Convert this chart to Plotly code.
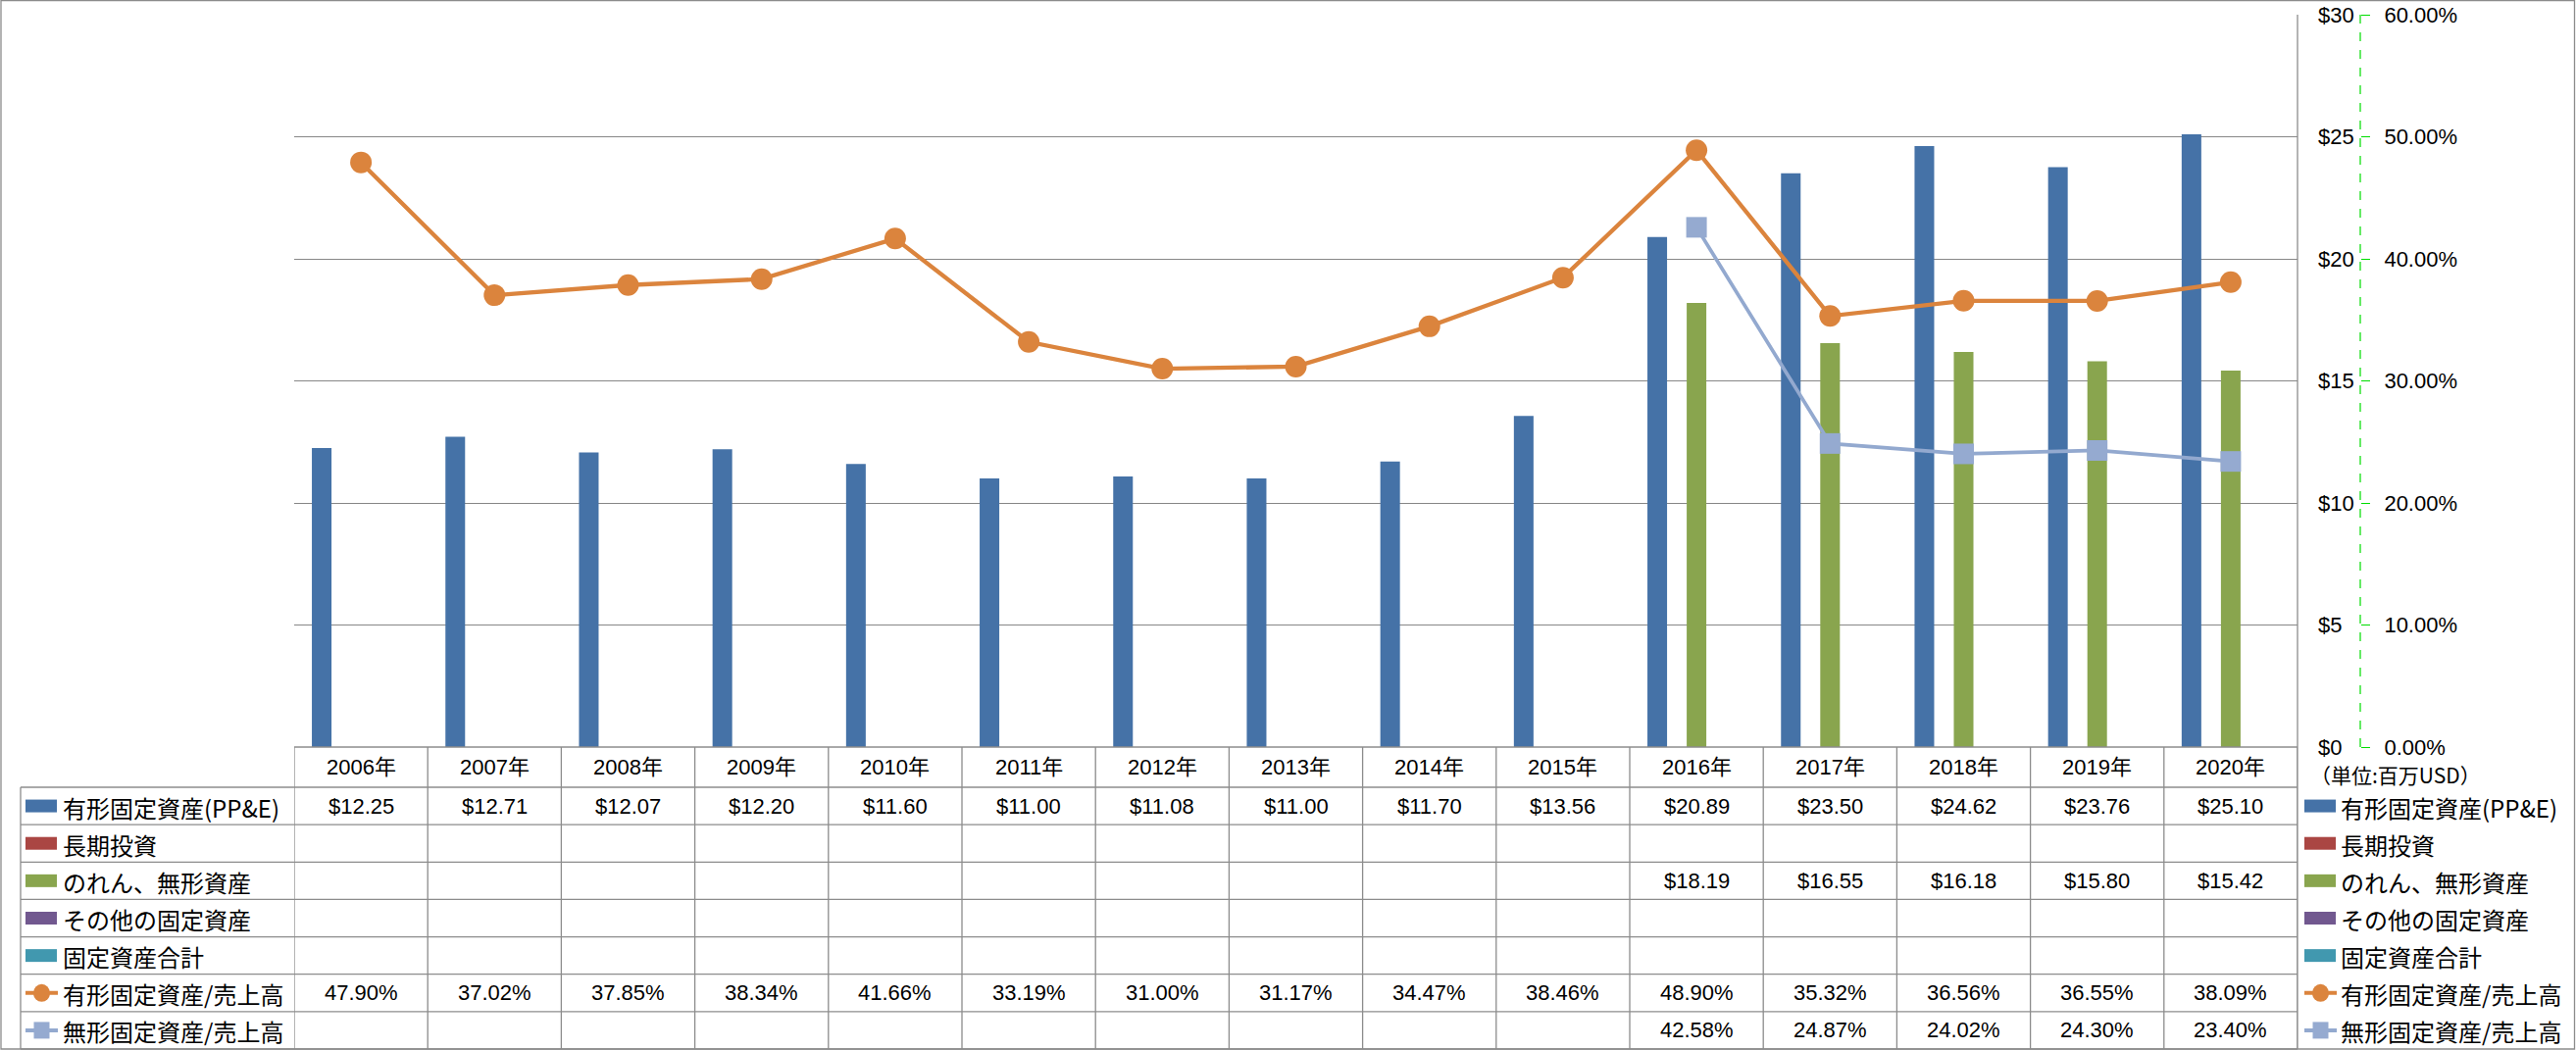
import plotly.graph_objects as go

W, H = 2627, 1071

# ---------------- data ----------------
years = ["2006", "2007", "2008", "2009", "2010", "2011", "2012", "2013",
         "2014", "2015", "2016", "2017", "2018", "2019", "2020"]
categories = [y + "年" for y in years]

ppe = [12.25, 12.71, 12.07, 12.20, 11.60, 11.00, 11.08, 11.00, 11.70, 13.56,
       20.89, 23.50, 24.62, 23.76, 25.10]
long_term_inv = [None] * 15
goodwill_intangibles = [None] * 10 + [18.19, 16.55, 16.18, 15.80, 15.42]
other_fixed = [None] * 15
total_fixed = [None] * 15
ppe_to_sales = [47.90, 37.02, 37.85, 38.34, 41.66, 33.19, 31.00, 31.17, 34.47,
                38.46, 48.90, 35.32, 36.56, 36.55, 38.09]
intangible_to_sales = [None] * 10 + [42.58, 24.87, 24.02, 24.30, 23.40]

series_names = ["有形固定資産(PP&E)", "長期投資", "のれん、無形資産", "その他の固定資産",
                "固定資産合計", "有形固定資産/売上高", "無形固定資産/売上高"]
unit_label = "（単位:百万USD）"

# ---------------- style ----------------
colors = ["#4572A7", "#AA4643", "#89A54E", "#71588F", "#4198AF", "#DB843D", "#93A9CF"]
FONT = "Liberation Sans, Arial, Noto Sans CJK JP, sans-serif"
CJK = "Noto Sans CJK JP, Liberation Sans, sans-serif"
GRID = "#878787"
LINE = "#8c8c8c"

PL, PR, PT, PB = 300, 2343, 15, 762  # plot area in px


def px(x):
    return x / W


def py(y):
    return 1 - y / H


fig = go.Figure()

bar_series = [ppe, long_term_inv, goodwill_intangibles, other_fixed, total_fixed]
for i, vals in enumerate(bar_series):
    fig.add_trace(go.Bar(x=categories, y=vals, name=series_names[i],
                         marker=dict(color=colors[i], line=dict(width=0)),
                         yaxis="y", showlegend=False, hoverinfo="skip"))

fig.add_trace(go.Scatter(x=categories, y=ppe_to_sales, name=series_names[5],
                         mode="lines+markers", yaxis="y2",
                         line=dict(color=colors[5], width=4.3),
                         marker=dict(symbol="circle", size=22, color=colors[5]),
                         showlegend=False, hoverinfo="skip"))
fig.add_trace(go.Scatter(x=categories, y=intangible_to_sales, name=series_names[6],
                         mode="lines+markers", yaxis="y2",
                         line=dict(color=colors[6], width=3.7),
                         marker=dict(symbol="square", size=21, color="#95AAD0"),
                         showlegend=False, hoverinfo="skip", connectgaps=False))

shapes = []
annotations = []

# plot-area right border + table right border
shapes.append(dict(type="line", xref="paper", yref="paper", x0=px(PR), x1=px(PR),
                   y0=py(PT), y1=py(1070), line=dict(color=LINE, width=1.3)))
# secondary axis dashed green line
shapes.append(dict(type="line", xref="paper", yref="paper", x0=px(2407), x1=px(2407),
                   y0=py(PT), y1=py(PB), line=dict(color="#00dd00", width=1.2, dash="dash")))

# ---------------- table ----------------
ROW0 = 803
RH = 38.14
# header top line (x axis)
shapes.append(dict(type="line", xref="paper", yref="paper", x0=px(PL), x1=px(PR),
                   y0=py(PB), y1=py(PB), line=dict(color=LINE, width=1.3)))
# column separators
for i in range(len(categories) + 1):
    shapes.append(dict(type="line", xref="x", yref="paper", x0=i - 0.5, x1=i - 0.5,
                       y0=py(PB), y1=py(1070), line=dict(color=LINE, width=1.3)))
# row lines
for r in range(8):
    yy = ROW0 + RH * r
    shapes.append(dict(type="line", xref="paper", yref="paper", x0=px(21), x1=px(PR),
                       y0=py(yy), y1=py(yy), line=dict(color=LINE, width=1.3)))
shapes.append(dict(type="line", xref="paper", yref="paper", x0=px(21), x1=px(21),
                   y0=py(ROW0), y1=py(1070), line=dict(color=LINE, width=1.3)))
# outer border
shapes.append(dict(type="rect", xref="paper", yref="paper", x0=px(1), x1=px(2625.5),
                   y0=py(1070), y1=py(0.5), line=dict(color=LINE, width=1.3)))

# header year labels
for i, c in enumerate(categories):
    annotations.append(dict(x=c, xref="x", y=py((PB + ROW0) / 2), yref="paper",
                            text=c, showarrow=False, xanchor="center", yanchor="middle",
                            font=dict(family=FONT, size=22, color="#000")))

row_values = [
    [None if v is None else "${:.2f}".format(v) for v in ppe],
    [None if v is None else "${:.2f}".format(v) for v in long_term_inv],
    [None if v is None else "${:.2f}".format(v) for v in goodwill_intangibles],
    [None if v is None else "${:.2f}".format(v) for v in other_fixed],
    [None if v is None else "${:.2f}".format(v) for v in total_fixed],
    [None if v is None else "{:.2f}%".format(v) for v in ppe_to_sales],
    [None if v is None else "{:.2f}%".format(v) for v in intangible_to_sales],
]

for r, vals in enumerate(row_values):
    yc = ROW0 + RH * r + RH / 2
    for i, t in enumerate(vals):
        if t is None:
            continue
        annotations.append(dict(x=categories[i], xref="x", y=py(yc), yref="paper",
                                text=t, showarrow=False, xanchor="center", yanchor="middle",
                                font=dict(family=FONT, size=22, color="#000")))
    # legend keys + labels, left (table) and right
    for kx, tx in ((26, 62), (2350, 2385)):
        col = colors[r]
        if r < 5:
            shapes.append(dict(type="rect", xref="paper", yref="paper",
                               x0=px(kx), x1=px(kx + 32), y0=py(yc + 6.5), y1=py(yc - 6.5),
                               fillcolor=col, line=dict(width=0)))
        else:
            shapes.append(dict(type="line", xref="paper", yref="paper",
                               x0=px(kx), x1=px(kx + 33), y0=py(yc), y1=py(yc),
                               line=dict(color=col, width=4)))
            cx = kx + 16.5
            if r == 5:
                shapes.append(dict(type="circle", xref="paper", yref="paper",
                                   x0=px(cx - 8.5), x1=px(cx + 8.5),
                                   y0=py(yc + 9), y1=py(yc - 9),
                                   fillcolor=col, line=dict(width=0)))
            else:
                shapes.append(dict(type="rect", xref="paper", yref="paper",
                                   x0=px(cx - 8), x1=px(cx + 8),
                                   y0=py(yc + 8.5), y1=py(yc - 8.5),
                                   fillcolor="#95AAD0", line=dict(width=0)))
        annotations.append(dict(x=px(tx), xref="paper", y=py(yc + 1), yref="paper",
                                text=series_names[r], showarrow=False,
                                xanchor="left", yanchor="middle",
                                font=dict(family=CJK, size=24, color="#000")))

annotations.append(dict(x=px(2354), xref="paper", y=py(790), yref="paper",
                        text=unit_label, showarrow=False, xanchor="left", yanchor="middle",
                        font=dict(family=CJK, size=21, color="#000")))

fig.update_layout(
    width=W, height=H,
    autosize=False,
    margin=dict(l=0, r=0, t=0, b=0, pad=0, autoexpand=False),
    paper_bgcolor="white", plot_bgcolor="white",
    barmode="group", bargap=0.265, bargroupgap=0,
    showlegend=False,
    font=dict(family=FONT, size=21, color="#000"),
    xaxis=dict(domain=[px(PL), px(PR)], type="category", range=[-0.5, 14.5],
               showticklabels=False, ticks="", showgrid=False, zeroline=False,
               showline=False, fixedrange=True, automargin=False),
    yaxis=dict(domain=[py(PB), py(PT)], range=[0, 30], dtick=5, tickprefix="$",
               side="right", anchor="free", position=px(2363), showgrid=True,
               gridcolor=GRID, gridwidth=1.3, zeroline=False, showline=False,
               automargin=False,
               ticks="", tickfont=dict(family=FONT, size=22, color="#000")),
    yaxis2=dict(range=[0, 60], dtick=10, tickformat=".2f", ticksuffix="%",
                overlaying="y", side="right", anchor="free", position=px(2407),
                showgrid=False, zeroline=False, showline=False, automargin=False,
                ticks="outside", ticklen=9, tickcolor="#00dd00", tickwidth=1.2,
                ticklabelstandoff=10,
                tickfont=dict(family=FONT, size=22, color="#000")),
    shapes=shapes,
    annotations=annotations,
)

fig.write_html("out.html")
